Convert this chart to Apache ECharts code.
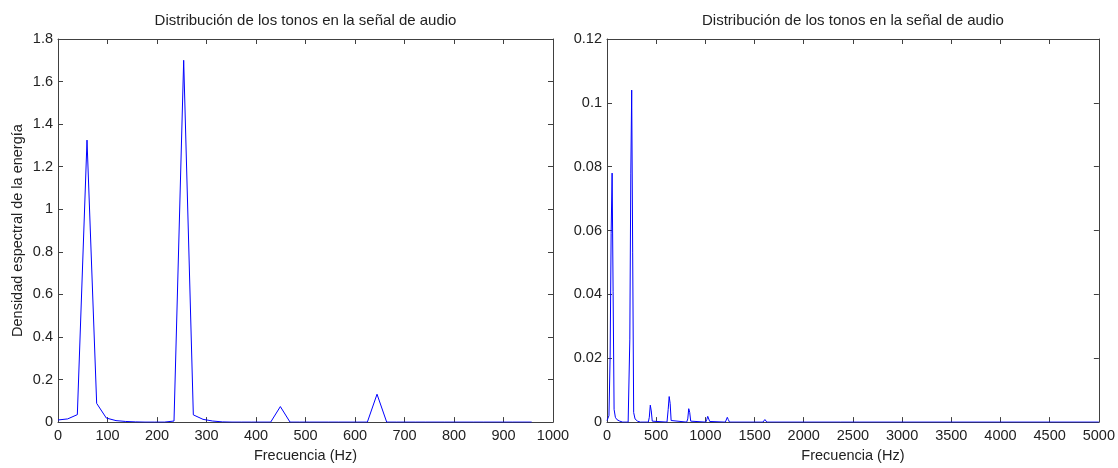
<!DOCTYPE html>
<html>
<head>
<meta charset="utf-8">
<title>Distribución de los tonos</title>
<script src="https://cdn.jsdelivr.net/npm/echarts@6/dist/echarts.min.js"></script>
<style>
  html, body { margin: 0; padding: 0; background: #fff; }
  #chart { width: 1118px; height: 468px; }
</style>
</head>
<body>
<div id="chart"></div>
<script>
  // espectro izquierdo: un valor por cada bin de 19.53 Hz (0 .. 957 Hz)
  const leftStep = 19.53
  const leftValues = [
    0.01, 0.015, 0.035, 1.325, 0.088, 0.019, 0.007, 0.003, 0.001, 0,
    0, 0, 0.005, 1.70, 0.034, 0.013, 0.005, 0.001, 0, 0,
    0, 0, 0, 0.073, 0, 0, 0, 0, 0, 0,
    0, 0, 0, 0.131, 0, 0, 0, 0, 0, 0,
    0, 0, 0, 0, 0, 0, 0, 0, 0, 0
  ]

  // espectro derecho: puntos (Hz, valor)
  const rightFreqs = [
    0, 20, 32, 42, 52, 62, 72, 85, 100, 130, 160,
    215, 225, 232, 242, 251, 261, 271, 285, 310, 340,
    420, 430, 440, 450, 460, 470,
    610, 622, 632, 642, 652, 662,
    810, 821, 831, 841, 851, 861,
    1004, 1014, 1024, 1034, 1044, 1054,
    1203, 1213, 1223, 1233, 1245,
    1585, 1595, 1605, 1615, 1625,
    2374, 2384, 2394,
    2563, 2573, 2583,
    5000
  ]
  const rightValues = [
    0.0005, 0.002, 0.021, 0.059, 0.078, 0.041, 0.004, 0.0015, 0.0008, 0.0003, 0,
    0, 0.0005, 0.026, 0.078, 0.104, 0.053, 0.003, 0.001, 0.0003, 0,
    0, 0.0015, 0.0053, 0.0035, 0.0003, 0,
    0, 0.004, 0.008, 0.0058, 0.0005, 0,
    0, 0.001, 0.0042, 0.003, 0.0003, 0,
    0, 0.0008, 0.0018, 0.0013, 0.0002, 0,
    0, 0.0006, 0.0015, 0.0008, 0,
    0, 0.0006, 0.0008, 0.0004, 0,
    0, 0.0004, 0,
    0, 0.0004, 0,
    0
  ]

  const titleText = 'Distribución de los tonos en la señal de audio'
  const xName = 'Frecuencia (Hz)'
  const yName = 'Densidad espectral de la energía'

  const font = 'Liberation Sans, Arial, sans-serif'
  const axisColor = '#404040'
  const textColor = '#222'

  const leftData = leftValues.map((v, i) => [i * leftStep, v])
  const rightData = rightFreqs.map((f, i) => [f, rightValues[i]])

  // eje con marcas hacia dentro, estilo matlab
  function boxAxis(extra) {
    return Object.assign({
      type: 'value',
      axisLine: { show: true, onZero: false, lineStyle: { color: axisColor, width: 1 } },
      axisTick: { show: true, inside: true, length: 5, lineStyle: { color: axisColor } },
      axisLabel: { show: false },
      splitLine: { show: false }
    }, extra)
  }

  // sin separador de miles
  const plain = v => String(+Number(v).toFixed(4))
  const labelStyle = { show: true, color: textColor, fontFamily: font, fontSize: 14.5, margin: 6, formatter: plain }
  const nameStyle = { color: textColor, fontFamily: font, fontSize: 14.5 }
  const titleStyle = { color: textColor, fontFamily: font, fontSize: 15 }

  const option = {
    backgroundColor: '#fff',
    animation: false,
    grid: [
      { left: 58, top: 39, width: 495, height: 388 },
      { left: 607, top: 39, width: 495, height: 388 }
    ],
    xAxis: [
      boxAxis({ gridIndex: 0, position: 'bottom', min: 0, max: 1000, interval: 100,
        axisLabel: labelStyle,
        name: xName, nameLocation: 'middle', nameGap: 25, nameTextStyle: nameStyle }),
      boxAxis({ gridIndex: 0, position: 'top', min: 0, max: 1000, interval: 100,
        name: titleText, nameLocation: 'middle', nameGap: 11, nameTextStyle: titleStyle }),
      boxAxis({ gridIndex: 1, position: 'bottom', min: 0, max: 5000, interval: 500,
        axisLabel: labelStyle,
        name: xName, nameLocation: 'middle', nameGap: 25, nameTextStyle: nameStyle }),
      boxAxis({ gridIndex: 1, position: 'top', min: 0, max: 5000, interval: 500,
        name: titleText, nameLocation: 'middle', nameGap: 11, nameTextStyle: titleStyle })
    ],
    yAxis: [
      boxAxis({ gridIndex: 0, position: 'left', min: 0, max: 1.8, interval: 0.2,
        axisLabel: Object.assign({}, labelStyle, { margin: 5 }),
        name: yName, nameLocation: 'middle', nameGap: 33, nameTextStyle: nameStyle }),
      boxAxis({ gridIndex: 0, position: 'right', min: 0, max: 1.8, interval: 0.2 }),
      boxAxis({ gridIndex: 1, position: 'left', min: 0, max: 0.12, interval: 0.02,
        axisLabel: Object.assign({}, labelStyle, { margin: 5 }) }),
      boxAxis({ gridIndex: 1, position: 'right', min: 0, max: 0.12, interval: 0.02 })
    ],
    series: [
      {
        type: 'line',
        xAxisIndex: 0,
        yAxisIndex: 0,
        data: leftData,
        showSymbol: false,
        symbol: 'none',
        lineStyle: { color: '#0000ff', width: 1 }
      },
      {
        type: 'line',
        xAxisIndex: 2,
        yAxisIndex: 2,
        data: rightData,
        showSymbol: false,
        symbol: 'none',
        lineStyle: { color: '#0000ff', width: 1 }
      }
    ]
  }

  const myChart = echarts.init(document.getElementById('chart'))
  myChart.setOption(option, true)
</script>
</body>
</html>
